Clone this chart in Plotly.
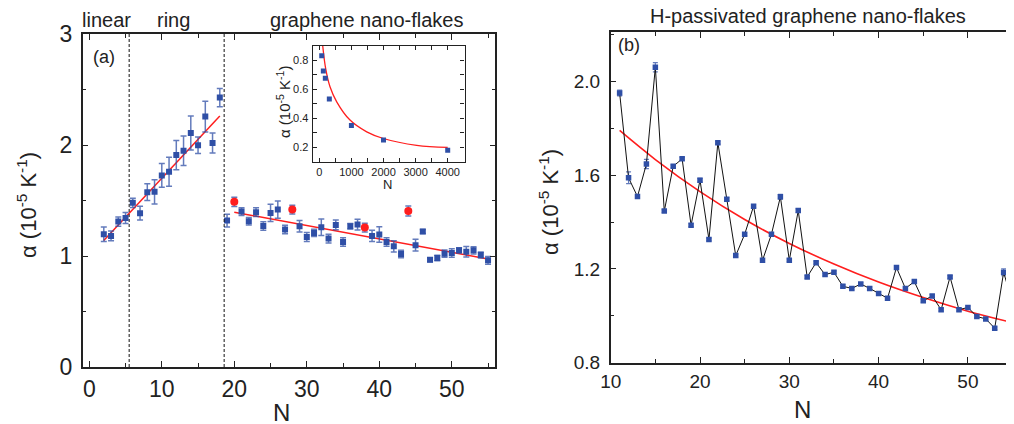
import plotly.graph_objects as go

# ---------------- data ----------------
# panel (a): linear + ring
ring_N = [2, 3, 4, 5, 6, 7, 8, 9, 10, 11, 12, 13, 14, 15, 16, 17, 18]
ring_alpha = [1.196, 1.181, 1.310, 1.343, 1.479, 1.386, 1.575, 1.578, 1.726, 1.759,
              1.909, 1.948, 2.108, 1.997, 2.256, 2.018, 2.427]
ring_err = [0.065, 0.044, 0.042, 0.050, 0.042, 0.062, 0.075, 0.110, 0.107, 0.130,
            0.132, 0.132, 0.154, 0.074, 0.139, 0.090, 0.083]

# panel (a): graphene nano-flakes (blue)
flake_N = [19, 21, 22, 23, 24, 25, 26, 27, 29, 30, 31, 32, 33, 34, 35, 36, 37,
           39, 40, 41, 42, 43, 45, 46, 47, 48, 49, 50, 51, 52, 53, 54, 55]
flake_alpha = [1.319, 1.400, 1.313, 1.395, 1.271, 1.388, 1.418, 1.238, 1.268, 1.171,
               1.208, 1.259, 1.157, 1.280, 1.126, 1.268, 1.283, 1.181, 1.193, 1.126,
               1.087, 1.018, 1.097, 1.220, 0.967, 0.982, 1.021, 1.027, 1.051, 1.039,
               1.051, 1.009, 0.961]
flake_err = [0.057, 0.035, 0.033, 0.040, 0.038, 0.078, 0.077, 0.038, 0.051, 0.040,
             0.032, 0.074, 0.039, 0.044, 0.039, 0.024, 0.048, 0.050, 0.070, 0.038,
             0.050, 0.033, 0.053, 0.018, 0.018, 0.024, 0.032, 0.038, 0.023, 0.047,
             0.033, 0.026, 0.035]

# panel (a): graphene nano-flakes (red)
red_N = [20, 28, 38, 44]
red_alpha = [1.488, 1.418, 1.256, 1.406]
red_err = [0.042, 0.040, 0.040, 0.045]

# panel (a): linear fits (end points)
ringfit_N = [2, 18]
ringfit_alpha = [1.140, 2.262]
flakefit_N = [20, 55]
flakefit_alpha = [1.395, 0.973]
region_bounds = [5.5, 18.6]

# inset
inset_N = [75, 125, 187, 312, 1000, 2000, 4000]
inset_alpha = [0.830, 0.726, 0.676, 0.532, 0.349, 0.249, 0.179]
insetfit_N = [106, 200, 333, 542, 956, 1477, 1994, 3034, 4000]
insetfit_alpha = [0.900, 0.740, 0.617, 0.513, 0.387, 0.306, 0.260, 0.213, 0.199]

# panel (b): H-passivated graphene nano-flakes
hp_N = list(range(11, 56))
hp_alpha = [1.951, 1.589, 1.509, 1.648, 2.061, 1.447, 1.638, 1.670, 1.387, 1.579,
            1.326, 1.739, 1.498, 1.257, 1.348, 1.468, 1.237, 1.348, 1.508, 1.237,
            1.449, 1.166, 1.227, 1.176, 1.186, 1.126, 1.117, 1.136, 1.117, 1.095,
            1.075, 1.206, 1.117, 1.146, 1.064, 1.085, 1.026, 1.166, 1.026, 1.036,
            0.997, 0.987, 0.947, 1.186, 1.054]
hp_err = [0.012, 0.025, 0.006, 0.020, 0.020, 0.006, 0.006, 0.006, 0.006, 0.008,
          0.006, 0.006, 0.006, 0.006, 0.006, 0.006, 0.006, 0.006, 0.010, 0.006,
          0.008, 0.006, 0.006, 0.006, 0.006, 0.006, 0.006, 0.006, 0.006, 0.006,
          0.006, 0.006, 0.006, 0.006, 0.006, 0.006, 0.006, 0.006, 0.006, 0.006,
          0.006, 0.006, 0.006, 0.015, 0.006]
hpfit_N = [11, 15, 20, 25, 30, 35, 40, 45, 50, 55, 56]
hpfit_alpha = [1.791, 1.667, 1.530, 1.411, 1.309, 1.221, 1.144, 1.078, 1.020, 0.971, 0.962]

# ---------------- styling ----------------
FONT = "Liberation Sans, Arial, sans-serif"
BLUE = "#2f4fa6"
EBLUE = "rgba(47,79,166,0.75)"
RED = "#ff1e1e"
AX = "#222222"
# the page body has an 8px margin: the figure is placed at (8, 8) in the window
OFF = 8
W, H = 1014 - OFF, 424 - OFF


def px(x):
    return (x - OFF) / W


def py(y):
    return (H - (y - OFF)) / H


fig = go.Figure()

# ---- panel (a)
fig.add_trace(go.Scatter(x=ringfit_N, y=ringfit_alpha, mode="lines",
                         line=dict(color=RED, width=1.5), xaxis="x", yaxis="y"))
fig.add_trace(go.Scatter(x=flakefit_N, y=flakefit_alpha, mode="lines",
                         line=dict(color=RED, width=1.5), xaxis="x", yaxis="y"))
fig.add_trace(go.Scatter(x=ring_N, y=ring_alpha, mode="markers",
                         marker=dict(symbol="square", size=6, color=BLUE),
                         error_y=dict(type="data", array=ring_err, color=EBLUE,
                                      thickness=1.5, width=3),
                         xaxis="x", yaxis="y"))
fig.add_trace(go.Scatter(x=flake_N, y=flake_alpha, mode="markers",
                         marker=dict(symbol="square", size=6, color=BLUE),
                         error_y=dict(type="data", array=flake_err, color=EBLUE,
                                      thickness=1.5, width=3),
                         xaxis="x", yaxis="y"))
fig.add_trace(go.Scatter(x=red_N, y=red_alpha, mode="markers",
                         marker=dict(symbol="circle", size=8, color=RED),
                         error_y=dict(type="data", array=red_err, color=EBLUE,
                                      thickness=1.5, width=3),
                         xaxis="x", yaxis="y"))

# ---- inset
fig.add_trace(go.Scatter(x=insetfit_N, y=insetfit_alpha, mode="lines",
                         line=dict(color=RED, width=1.3, shape="spline"),
                         xaxis="x3", yaxis="y3"))
fig.add_trace(go.Scatter(x=inset_N, y=inset_alpha, mode="markers",
                         marker=dict(symbol="square", size=5, color=BLUE),
                         xaxis="x3", yaxis="y3"))

# ---- panel (b)
fig.add_trace(go.Scatter(x=hpfit_N, y=hpfit_alpha, mode="lines",
                         line=dict(color=RED, width=1.6, shape="spline"),
                         xaxis="x2", yaxis="y2"))
fig.add_trace(go.Scatter(x=hp_N, y=hp_alpha, mode="lines+markers",
                         line=dict(color="#111111", width=1),
                         marker=dict(symbol="square", size=5.5, color=BLUE),
                         error_y=dict(type="data", array=hp_err, color=EBLUE,
                                      thickness=1.2, width=2.5),
                         xaxis="x2", yaxis="y2"))

# vertical dashed region lines
for b in region_bounds:
    fig.add_shape(type="line", xref="x", yref="y domain", x0=b, x1=b, y0=0, y1=1,
                  line=dict(color="#111111", width=1, dash="3px,2px"))


def axis(domain, rng, dtick, mdtick, size, standoff, tick0=0, **kw):
    d = dict(domain=domain, range=rng, dtick=dtick, tick0=tick0,
             ticks="inside", ticklen=6, tickwidth=1.2, tickcolor=AX,
             minor=dict(dtick=mdtick, tick0=tick0, ticks="inside", ticklen=4,
                        tickwidth=1, tickcolor=AX, showgrid=False),
             showline=True, linecolor=AX, linewidth=1.5, mirror="ticks",
             showgrid=False, zeroline=False,
             tickfont=dict(family=FONT, size=size, color=AX),
             ticklabelstandoff=standoff)
    d.update(kw)
    return d


fig.update_layout(
    width=W, height=H, margin=dict(l=0, r=0, t=0, b=0, pad=0, autoexpand=False),
    paper_bgcolor="white", plot_bgcolor="white", showlegend=False,
    xaxis=axis([px(82.7), px(495.3)], [-0.91, 56.0], 10, 5, 23, 1, anchor="y"),
    yaxis=axis([py(367.0), py(34.0)], [0, 3], 1, 0.5, 23, 4, anchor="x"),
    xaxis2=axis([px(610.7), 1.0], [10, 55.16], 10, 5, 19, 1, anchor="y2"),
    yaxis2=axis([py(362.7), py(32.3)], [0.8, 2.21], 0.4, 0.2, 19, 5,
                tick0=0.8, tickformat=".1f", anchor="x2"),
    xaxis3=axis([px(312.7), px(464.5)], [-206, 4523], 1000, 500, 11, 0, anchor="y3",
                linewidth=1.2, ticklen=4),
    yaxis3=axis([py(161.7), py(45.7)], [0.1, 0.9], 0.2, 0.1, 11, 1,
                anchor="x3", tickformat=".1f", linewidth=1.2, ticklen=4),
)

ytitle = "α (10<sup>-5</sup> K<sup>-1</sup>)"


def ann(text, x, y, size, angle=0):
    fig.add_annotation(text=text, x=px(x), y=py(y), xref="paper", yref="paper",
                       showarrow=False, textangle=angle, xanchor="center",
                       yanchor="middle", font=dict(family=FONT, size=size, color=AX))


ann(ytitle, 27, 205, 22, -90)
ann(ytitle, 549, 202, 22, -90)
ann(ytitle, 284, 102, 15, -90)
ann("N", 281, 412, 24)
ann("N", 802, 409, 24)
ann("N", 387, 184, 13)
ann("linear", 106, 20, 20)
ann("ring", 173, 20, 20)
ann("graphene nano-flakes", 366, 20, 20)
ann("H-passivated graphene nano-flakes", 808, 16, 20)
ann("(a)", 104, 57, 18)
ann("(b)", 629, 45, 18)

fig.write_html("out.html")
